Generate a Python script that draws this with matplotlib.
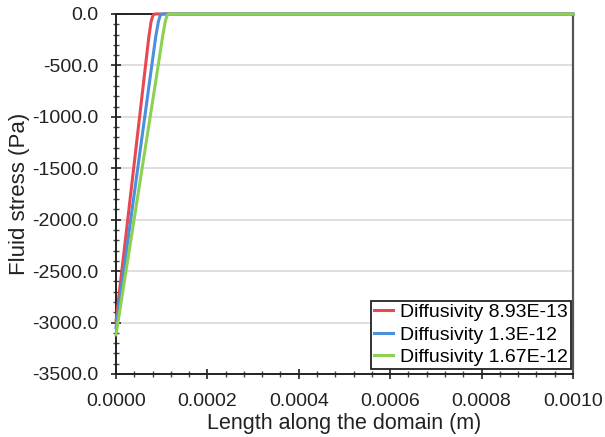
import matplotlib
matplotlib.use("Agg")
import matplotlib.pyplot as plt
from matplotlib.ticker import MultipleLocator, FormatStrFormatter

plt.rcParams['font.family'] = ['Liberation Sans', 'DejaVu Sans']

# fluid stress profiles along the domain for three diffusivities
labels = ['Diffusivity 8.93E-13', 'Diffusivity 1.3E-12', 'Diffusivity 1.67E-12']
colors = ['#e8484f', '#4a90dc', '#8cd152']

x_red = [0.0, 6.1e-5, 7.2e-5, 7.7e-5, 8.1e-5, 8.5e-5, 1.0e-3]
y_red = [-2990.0, -641.0, -220.0, -70.0, -12.0, 0.0, 0.0]

x_blue = [0.0, 7.4e-5, 8.7e-5, 9.3e-5, 9.7e-5, 1.01e-4, 1.0e-3]
y_blue = [-3050.0, -641.0, -220.0, -70.0, -12.0, 0.0, 0.0]

x_green = [0.0, 8.75e-5, 1.02e-4, 1.08e-4, 1.12e-4, 1.16e-4, 1.0e-3]
y_green = [-3120.0, -641.0, -220.0, -70.0, -12.0, 0.0, 0.0]

series = [(x_red, y_red), (x_blue, y_blue), (x_green, y_green)]

fig = plt.figure(figsize=(6.05, 4.37), dpi=100)
ax = fig.add_axes([0.1917, 0.1442, 0.7553, 0.8238])

for (xs, ys), lab, col in zip(series, labels, colors):
    ax.plot(xs, ys, color=col, lw=2.2, label=lab, clip_on=False, zorder=5)

ax.set_xlim(0, 0.001)
ax.set_ylim(-3500, 0)
ax.xaxis.set_major_locator(MultipleLocator(0.0002))
ax.xaxis.set_minor_locator(MultipleLocator(0.00004))
ax.yaxis.set_major_locator(MultipleLocator(500))
ax.yaxis.set_minor_locator(MultipleLocator(100))
ax.xaxis.set_major_formatter(FormatStrFormatter('%.4f'))
ax.yaxis.set_major_formatter(FormatStrFormatter('%.1f'))

ax.grid(axis='y', which='major', color='#d9d9d9', lw=1.2)
ax.set_axisbelow(True)

ax.tick_params(which='major', direction='inout', length=7, width=1.2,
               labelsize=14, colors='#222222')
ax.tick_params(which='minor', direction='inout', length=5, width=1.0, colors='#444444')
ax.tick_params(axis='x', which='major', pad=10)
ax.tick_params(axis='y', which='major', pad=9)

for side in ['left', 'bottom', 'top']:
    ax.spines[side].set_color('#222222')
    ax.spines[side].set_linewidth(1.4)
ax.spines['right'].set_color('#555555')
ax.spines['right'].set_linewidth(1.6)

ax.set_xlabel('Length along the domain (m)', fontsize=15.5, color='#222222', labelpad=2)
ax.set_ylabel('Fluid stress (Pa)', fontsize=16, color='#222222', labelpad=2)

leg = ax.legend(loc='lower right', bbox_to_anchor=(0.9956, 0.0139), fontsize=14,
                frameon=True, fancybox=False, edgecolor='#222222', framealpha=1,
                handlelength=1.0, handletextpad=0.35, borderpad=0.15,
                labelspacing=0.25, borderaxespad=0.0)
leg.get_frame().set_linewidth(1.3)

fig.savefig('out.png', dpi=100)
